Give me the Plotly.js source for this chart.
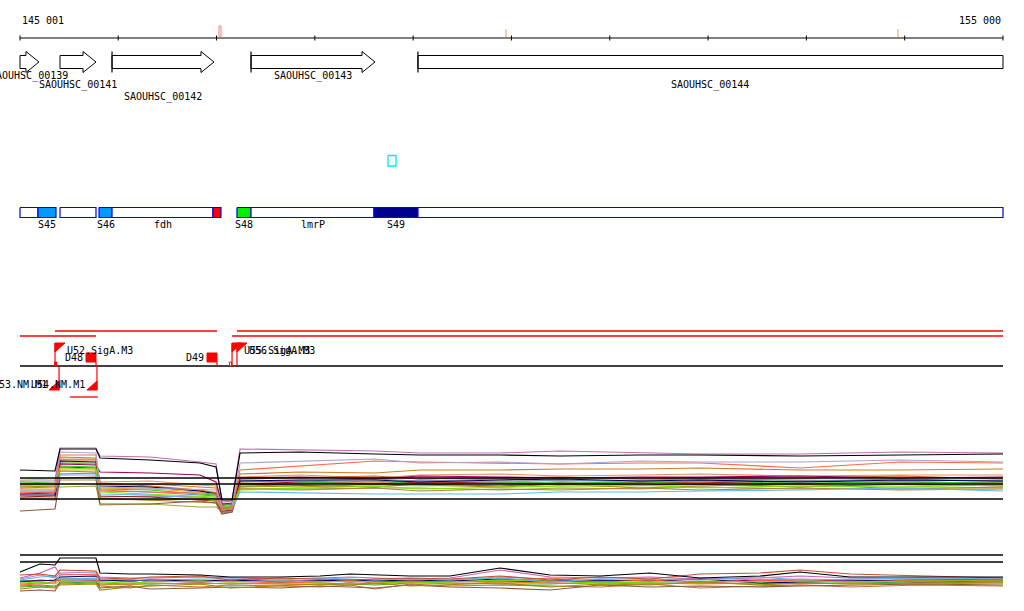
<!DOCTYPE html>
<html><head><meta charset="utf-8">
<script src="https://cdn.plot.ly/plotly-3.0.1.min.js"></script>
<style>html,body{margin:0;padding:0;background:#fff}#chart{width:1024px;height:611px}</style>
</head><body><div id="chart"></div>
<script>
// ---------------- DATA ----------------
const VIEW_START = 145001, VIEW_END = 155000;
const SCALE_TICKS = [145001,146000,147000,148000,149000,150000,151000,152000,153000,154000,155000];
const SCALE_LABELS = ['145 001','155 000'];
const SITE_POS = [147035, 149945, 153932];

const GENE_NAMES = ['SAOUHSC_00139','SAOUHSC_00141','SAOUHSC_00142','SAOUHSC_00143','SAOUHSC_00144'];
const GENE_START = [144560, 145408, 145937, 147351, 149049];
const GENE_END   = [145194, 145774, 146974, 148612, 155420];

const SEG_START = [145001,145184,145408,145805,145937,146964,147208,147351,148602,149049];
const SEG_END   = [145184,145367,145774,145937,146964,147045,147351,148602,149049,155000];
const SEG_LABEL = ['','S45','','S46','fdh','','S48','lmrP','S49',''];
const SEG_KIND  = ['plain','segA','plain','segA','plain','term','segB','plain','segC','plain'];
const MISC_START = [148744], MISC_END = [148826];

const TX_START = [145001, 145357, 147208, 147158];
const TX_END   = [145774, 147005, 155000, 155000];
const TXR_START = [145509], TXR_END = [145794];

const TSS_FWD_NAME = ['U52.SigA.M3','U55.SigA.M3','U56.SigA.M3'];
const TSS_FWD_POS  = [145357, 147158, 147208];
const TSS_REV_NAME = ['U53.NM.M1','U54.NM.M1'];
const TSS_REV_POS  = [145398, 145784];
const TERM_NAME = ['D48','D49'];
const TERM_POS  = [145774, 147005];
const MARK_POS = [145365, 147143];
const MARK_FILLED = [true, false];

const X_MID = [145001,145357,145408,145774,145815,146323,146832,146995,147056,147158,147239,147849,148612,149070,149884,150494,151308,151918,152935,153952,155000];
const MID_01 = [6.0,5.9,8.1,8.1,7.2,7.0,6.7,6.3,3.0,3.0,7.7,7.8,7.6,7.5,7.5,7.4,7.5,7.5,7.4,7.5,7.6];
const MID_02 = [4.9,4.9,8.2,8.2,7.4,7.3,6.8,6.6,2.8,2.9,8.1,8.0,7.9,7.7,7.7,7.9,7.7,7.6,7.6,7.8,7.7];
const MID_03 = [4.6,4.6,7.8,7.7,4.3,4.2,4.1,4.0,2.4,2.5,6.7,6.9,7.1,6.7,6.8,6.6,6.9,6.8,6.8,7.0,6.8];
const MID_04 = [3.8,3.8,7.5,7.5,4.0,3.8,3.7,3.6,2.0,2.1,6.0,6.4,6.9,6.8,6.7,6.6,6.7,6.7,6.2,6.8,6.7];
const MID_05 = [4.2,4.3,7.3,7.2,4.5,4.6,4.3,4.2,2.2,2.3,5.6,5.8,5.7,6.0,6.0,6.1,6.1,6.2,6.0,6.0,6.1];
const MID_06 = [3.9,3.9,5.5,5.5,3.6,3.5,3.2,3.2,2.0,2.1,3.8,3.7,3.6,3.6,3.6,3.8,3.8,3.9,4.0,4.2,3.9];
const MID_07 = [4.7,4.6,6.2,6.1,3.8,3.6,3.4,3.3,2.3,2.4,4.0,4.2,4.4,4.1,4.3,4.4,4.5,4.2,4.4,4.3,4.5];
const MID_08 = [4.3,4.4,5.9,5.8,3.1,3.0,3.1,2.9,2.1,2.2,4.4,4.3,4.6,4.5,4.3,4.6,4.2,4.4,4.6,4.1,4.3];
const MID_09 = [1.9,2.1,5.2,5.3,2.6,2.6,2.9,2.7,1.6,1.8,4.6,4.5,4.3,4.6,4.4,4.7,4.5,4.6,4.3,4.6,4.4];
const MID_10 = [3.6,3.7,6.6,6.5,5.8,5.7,5.5,4.8,2.6,2.7,5.2,5.3,5.1,5.4,5.3,5.2,5.3,5.3,5.4,5.2,5.3];
const MID_11 = [3.5,3.5,6.9,6.8,4.4,4.3,3.9,3.6,2.4,2.5,4.9,5.0,5.0,4.8,5.0,5.1,4.9,5.0,4.8,5.0,4.9];
const MID_12 = [3.7,3.8,7.0,7.0,4.7,4.4,4.0,3.7,2.2,2.3,5.1,5.2,5.4,5.1,5.2,5.3,5.1,5.2,5.2,5.4,5.1];
const MID_13 = [4.8,4.7,6.4,6.3,4.1,4.0,3.6,3.5,2.5,2.6,4.3,4.7,4.9,4.6,4.7,4.8,4.7,4.9,4.7,4.8,4.7];
const MID_14 = [4.0,4.0,7.1,7.1,4.8,4.9,4.5,4.4,2.6,2.6,5.3,5.5,5.2,5.5,5.6,5.4,5.5,5.6,5.4,5.5,5.5];
const MID_15 = [4.4,4.4,6.7,6.6,3.9,3.8,3.5,3.4,2.3,2.4,5.0,4.9,5.1,4.9,5.1,4.9,5.0,5.1,5.0,4.9,5.0];
const MID_16 = [3.3,3.4,6.3,6.2,3.4,3.3,3.0,2.9,1.9,2.0,4.6,4.8,4.6,4.8,4.7,4.5,4.8,4.7,4.9,4.7,4.8];
const MID_17 = [4.1,4.1,6.0,6.0,4.2,4.1,3.8,3.7,2.4,2.5,4.7,4.6,4.8,4.7,4.9,4.6,4.9,4.8,4.6,4.9,4.6];
const MID_18 = [3.2,3.2,5.0,5.0,3.2,3.0,2.8,2.7,1.8,1.9,4.1,4.0,4.2,3.9,4.1,4.0,4.2,4.0,4.2,4.0,4.1];
const MID_19 = [5.0,5.1,6.8,6.7,4.6,4.3,3.9,3.8,2.1,2.2,4.5,4.4,4.5,4.4,4.5,4.3,4.4,4.5,4.5,4.4,4.6];
const MID_20 = [3.1,3.0,5.6,5.7,3.3,3.4,3.3,3.1,1.7,1.8,4.8,4.9,4.7,5.0,4.8,5.0,4.8,4.9,4.9,5.1,4.9];
const MID_21 = [4.5,4.6,4.3,4.4,2.5,2.6,2.3,2.3,1.9,2.0,4.2,4.1,4.2,4.2,4.0,4.2,4.1,4.3,4.1,4.2,4.2];
const MID_REF = [5.2, 4.6, 3.1];

const X_BOT = [145001,145204,145357,145408,145774,145815,146120,146323,146832,147137,147646,148053,148358,148612,148968,149375,149884,150393,150901,151409,151918,152529,152935,153444,154156,155000];
const BOT_01 = [2.8,3.6,3.5,4.2,4.2,2.7,2.6,2.6,2.5,2.3,2.3,2.4,2.6,2.5,2.4,2.4,3.2,2.5,2.4,2.7,2.2,2.4,2.8,2.3,2.3,2.3];
const BOT_02 = [2.5,2.6,2.4,3.0,2.9,2.2,2.1,2.3,2.4,2.0,2.2,2.1,2.0,2.1,2.2,2.1,2.4,2.0,2.3,2.1,2.6,2.7,3.0,2.6,2.4,2.2];
const BOT_03 = [1.1,1.3,1.2,1.5,1.6,1.0,1.3,1.4,1.6,1.2,1.4,1.6,1.5,1.7,1.4,1.5,1.7,1.3,1.6,1.5,1.8,1.5,1.7,1.6,1.7,1.8];
const BOT_04 = [2.0,2.3,2.4,2.1,2.2,2.1,2.0,2.0,2.1,2.1,2.0,2.2,2.1,2.0,2.1,2.0,2.2,1.8,2.1,2.1,2.0,2.3,2.0,2.1,2.2,2.1];
const BOT_05 = [1.7,1.8,1.6,1.9,1.8,1.8,1.7,1.8,1.9,1.8,1.9,1.8,1.9,1.8,1.7,1.8,2.0,1.9,1.7,1.8,1.9,1.8,1.9,1.8,1.9,1.9];
const BOT_06 = [1.5,1.6,1.7,2.5,2.6,1.7,1.6,1.9,1.8,1.9,1.7,1.8,1.9,1.7,1.9,1.8,1.9,2.2,1.8,2.0,1.7,1.9,2.0,1.8,2.0,1.9];
const BOT_07 = [2.2,2.7,3.3,2.6,2.5,2.3,2.2,2.2,2.3,2.2,2.1,2.2,2.3,2.2,2.1,2.2,3.0,2.3,2.2,2.3,2.1,2.2,2.4,2.2,2.1,2.2];
const BOT_08 = [0.9,1.0,0.9,1.8,1.9,1.2,1.4,1.1,1.2,1.3,1.2,1.4,1.3,1.2,1.5,1.3,1.2,1.0,1.5,1.3,1.4,1.3,1.4,1.5,1.6,1.5];
const BOT_09 = [1.9,1.9,2.0,2.3,2.4,2.0,1.9,2.0,1.9,2.0,1.8,1.9,2.0,1.9,2.0,1.9,2.1,1.9,2.0,1.9,2.1,1.7,1.8,1.9,2.0,2.0];
const BOT_10 = [1.6,1.7,1.8,2.2,2.1,1.6,1.5,1.7,1.6,1.7,1.6,1.5,1.7,1.6,1.8,1.6,1.8,1.7,1.6,1.7,1.6,1.7,1.6,1.7,1.6,1.7];
const BOT_11 = [2.1,2.5,2.2,2.7,2.8,2.0,1.8,2.1,2.0,1.9,2.0,1.9,1.8,2.0,1.9,2.0,2.3,2.1,1.9,2.0,2.2,2.0,2.1,2.0,2.0,2.0];
const BOT_12 = [1.8,2.0,1.9,2.0,2.0,1.9,2.0,1.9,1.8,1.9,1.9,2.0,1.8,1.9,1.8,1.9,1.9,1.8,1.9,2.0,1.8,2.0,1.9,2.0,1.8,1.9];
const BOT_13 = [1.4,1.5,1.4,1.6,1.7,1.4,1.2,1.5,1.3,1.5,1.4,1.3,1.5,1.1,1.6,1.4,1.5,1.4,1.3,1.6,1.2,1.4,1.5,1.3,1.5,1.4];
const BOT_14 = [1.3,1.4,1.3,1.7,1.8,1.5,1.6,1.6,1.7,1.6,1.7,1.7,1.6,1.5,1.7,1.7,1.6,1.6,1.8,1.7,1.7,1.6,1.7,1.7,1.8,1.7];
const BOT_REF = [4.5, 3.8];

// ---------------- LAYOUT / STYLE ----------------
const W = 1024, H = 611;
const BP = (VIEW_END - VIEW_START) / 983;       // bp per pixel
const X0 = VIEW_START - 20 * BP, X1 = X0 + W * BP;
const FONT = {family: 'DejaVu Sans Mono, monospace', size: 10, color: '#000'};
const MID_COLORS = ['#000000','#c070b0','#b0a0d0','#ff6a4a','#d07a20','#60b8f0','#80e000','#a09000','#8b5a3c','#a0005a','#000060','#c86020','#40c030','#e89060','#7090c0','#a02020','#f0a020','#b08040','#a0e060','#9070a0','#a0a030'];
const BOT_COLORS = ['#000000','#c05030','#a08a00','#60b0f0','#70e000','#ff6040','#d060b0','#8b5a3c','#000060','#e08020','#a090d0','#a00050','#c07040','#30b030'];
const SEG_FILL = {plain:'#ffffff', segA:'#0099ff', segB:'#00ee00', segC:'#000090', term:'#ff0000'};
const GENE_LABEL_ROW = [76, 85, 97, 76, 85];
const GENE_START_BAR = [false, false, true, true, true];
const TX_ROW = [336, 331, 331, 336];

const traces = [], ann = [];
function poly(xs, ys, fill, line, w, yaxis) {
  traces.push({type:'scatter', mode:'lines', x:xs, y:ys, fill: fill ? 'toself' : 'none',
    fillcolor: fill || undefined, line:{color:line, width:w}, hoverinfo:'skip', showlegend:false, yaxis: yaxis || 'y'});
}
function text(x, y, s, anchor) {
  ann.push({x:x, y:y, xref:'x', yref:'y', text:s, showarrow:false, xanchor:anchor||'center', yanchor:'middle', font:FONT});
}

// expression panels
const MID = [MID_01,MID_02,MID_03,MID_04,MID_05,MID_06,MID_07,MID_08,MID_09,MID_10,MID_11,MID_12,MID_13,MID_14,MID_15,MID_16,MID_17,MID_18,MID_19,MID_20,MID_21];
for (let i = MID.length - 1; i >= 0; i--) poly(X_MID, MID[i], null, MID_COLORS[i], 1.2, 'y2');
MID_REF.forEach(v => poly([VIEW_START, VIEW_END], [v, v], null, '#000', 1.6, 'y2'));
const BOT = [BOT_01,BOT_02,BOT_03,BOT_04,BOT_05,BOT_06,BOT_07,BOT_08,BOT_09,BOT_10,BOT_11,BOT_12,BOT_13,BOT_14];
for (let i = BOT.length - 1; i >= 0; i--) poly(X_BOT, BOT[i], null, BOT_COLORS[i], 1.2, 'y3');
BOT_REF.forEach(v => poly([VIEW_START, VIEW_END], [v, v], null, '#000', 1.6, 'y3'));

// scale
poly([VIEW_START, VIEW_END], [38, 38], null, '#000', 1.2);
SCALE_TICKS.forEach(t => poly([t, t], [35.5, 40.5], null, '#000', 1));
text(VIEW_START, 20, SCALE_LABELS[0], 'left');
text(VIEW_END, 20, SCALE_LABELS[1], 'right');
SITE_POS.forEach((p, i) => {
  if (i === 0) poly([p - BP, p + BP, p + BP, p - BP, p - BP], [26, 26, 37, 37, 26], '#ffffff', '#f08070', 1);
  else poly([p, p], [29, 37], null, '#f6cabb', 2);
});

// genes
const HEAD = 13 * BP;
GENE_NAMES.forEach((g, i) => {
  const s = Math.max(GENE_START[i], VIEW_START), e = Math.min(GENE_END[i], VIEW_END);
  let xs, ys;
  if (GENE_END[i] > VIEW_END) { xs = [s, e, e, s, s]; ys = [55.5, 55.5, 68.5, 68.5, 55.5]; }
  else { const b = e - HEAD; xs = [s, b, b, e, b, b, s, s]; ys = [55.5, 55.5, 51.5, 62, 72.5, 68.5, 68.5, 55.5]; }
  poly(xs, ys, '#ffffff', '#000', 1);
  if (GENE_START_BAR[i]) poly([s, s], [51.5, 72.5], null, '#000', 1.2);
  text((s + e) / 2, GENE_LABEL_ROW[i], g, 'center');
});

// feature segments
SEG_START.forEach((s, i) => {
  const e = SEG_END[i];
  poly([s, e, e, s, s], [207.5, 207.5, 217.5, 217.5, 207.5], SEG_FILL[SEG_KIND[i]], '#0000ee', 1.2);
  if (SEG_LABEL[i]) text((s + e) / 2, 224, SEG_LABEL[i], 'center');
});
MISC_START.forEach((s, i) => poly([s, MISC_END[i], MISC_END[i], s, s], [155.5, 155.5, 166, 166, 155.5], null, '#00e8ff', 1.3));

// transcripts, baseline, TSS
TX_START.forEach((s, i) => poly([s, TX_END[i]], [TX_ROW[i], TX_ROW[i]], null, '#ff0000', 1.3));
TXR_START.forEach((s, i) => poly([s, TXR_END[i]], [397, 397], null, '#ff0000', 1.3));
poly([VIEW_START, VIEW_END], [366, 366], null, '#000', 1.3);
const FLAG = 10 * BP;
TSS_FWD_POS.forEach((p, i) => {
  poly([p, p], [366, 343], null, '#ff0000', 1.2);
  poly([p, p + FLAG, p, p], [343, 343, 352, 343], '#ff0000', '#ff0000', 1);
  text(p + FLAG, 350, TSS_FWD_NAME[i], 'left');
});
TSS_REV_POS.forEach((p, i) => {
  poly([p, p], [366, 390], null, '#ff0000', 1.2);
  poly([p, p, p - FLAG, p], [381, 390, 390, 381], '#ff0000', '#ff0000', 1);
  text(p - FLAG, 384, TSS_REV_NAME[i], 'right');
});
TERM_POS.forEach((p, i) => {
  poly([p - FLAG, p, p, p - FLAG, p - FLAG], [353, 353, 362, 362, 353], '#ff0000', '#ff0000', 1);
  poly([p, p], [362, 366], null, '#ff0000', 1.2);
  text(p - FLAG - BP, 357, TERM_NAME[i], 'right');
});
MARK_POS.forEach((p, i) => poly([p - BP, p + BP, p + BP, p - BP, p - BP], [362, 362, 366, 366, 362], MARK_FILLED[i] ? '#ff0000' : '#ffffff', '#ff0000', 1));

const hidden = {visible:false, fixedrange:true};
const layout = {
  width: W, height: H, margin:{l:0, r:0, t:0, b:0, pad:0},
  paper_bgcolor:'#fff', plot_bgcolor:'#fff', showlegend:false,
  xaxis: Object.assign({range:[X0, X1]}, hidden),
  yaxis: Object.assign({range:[H, 0], domain:[0, 1]}, hidden),
  yaxis2: Object.assign({range:[0, 9], domain:[1 - 530 / H, 1 - 440 / H]}, hidden),
  yaxis3: Object.assign({range:[0, 5], domain:[1 - 600 / H, 1 - 550 / H]}, hidden),
  annotations: ann
};
Plotly.newPlot('chart', traces, layout, {displayModeBar:false, staticPlot:true});
</script></body></html>
